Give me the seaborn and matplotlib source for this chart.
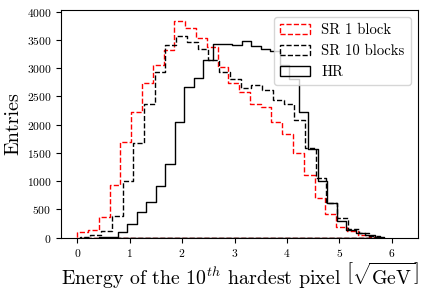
import numpy as np
import pandas as pd
import matplotlib
matplotlib.use("Agg")
import matplotlib.pyplot as plt
import seaborn as sns

# ---- data ----
labels = ["SR 1 block", "SR 10 blocks", "HR"]
colors = ["red", "black", "black"]
styles = ["--", "--", "-"]

# first bin edge and bin width for each series
sr1_start, sr1_width = 0.0, 0.2058
sr10_start, sr10_width = 0.044, 0.2048
hr_start, hr_width = 0.408, 0.1817

sr1_counts = [92, 127, 357, 922, 1700, 2230, 2730, 3060, 3330, 3838,
              3713, 3537, 3383, 3018, 2735, 2583, 2371, 2311, 2046, 1829,
              1505, 1104, 692, 415, 191, 120, 49, 14]
sr10_counts = [15, 39, 110, 374, 993, 1682, 2371, 2936, 3413, 3572,
               3466, 3343, 3148, 2924, 2812, 2654, 2707, 2618, 2435, 2359,
               2088, 1594, 1057, 615, 339, 145, 74, 27]
hr_counts = [3, 15, 92, 233, 445, 622, 905, 1311, 2046, 2671,
             2830, 3148, 3424, 3420, 3413, 3484, 3401, 3343, 3307, 3050,
             2800, 2223, 1569, 1004, 615, 297, 133, 85, 39, 9]

x_ticks = [0, 1, 2, 3, 4, 5, 6]
y_ticks = [0, 500, 1000, 1500, 2000, 2500, 3000, 3500, 4000]

# ---- style ----
plt.rcParams["font.family"] = "serif"
plt.rcParams["font.serif"] = ["cmr10", "DejaVu Serif"]
plt.rcParams["mathtext.fontset"] = "cm"
plt.rcParams["axes.unicode_minus"] = False
plt.rcParams["axes.formatter.use_mathtext"] = True

fig = plt.figure(figsize=(4.25, 2.91), dpi=100)
ax = fig.add_axes([0.1435, 0.1838, 0.84, 0.7818])

series = [
    (sr1_start, sr1_width, sr1_counts),
    (sr10_start, sr10_width, sr10_counts),
    (hr_start, hr_width, hr_counts),
]
for (start, width, counts), lab, col, ls in zip(series, labels, colors, styles):
    n = len(counts)
    edges = [float(start + width * i) for i in range(n + 1)]
    centers = [(edges[i] + edges[i + 1]) / 2 for i in range(n)]
    df = pd.DataFrame({"x": centers, "w": counts})
    sns.histplot(data=df, x="x", weights="w", bins=edges, element="step",
                 fill=True, color=col, facecolor="none", edgecolor=col,
                 linestyle=ls, linewidth=1.0, label=lab, ax=ax)

ax.set_xlim(-0.311, 6.50)
ax.set_ylim(0, 4030)
ax.set_xticks(x_ticks)
ax.set_yticks(y_ticks)
ax.tick_params(labelsize=8.3)
ax.set_xlabel(r"Energy of the $10^{th}$ hardest pixel $\left[\sqrt{\mathrm{GeV}}\right]$",
              fontsize=14.3, labelpad=1)
ax.set_ylabel("Entries", fontsize=14.5, labelpad=3)
ax.legend(loc="upper right", fontsize=10.6)

fig.savefig("out.png", dpi=100)
